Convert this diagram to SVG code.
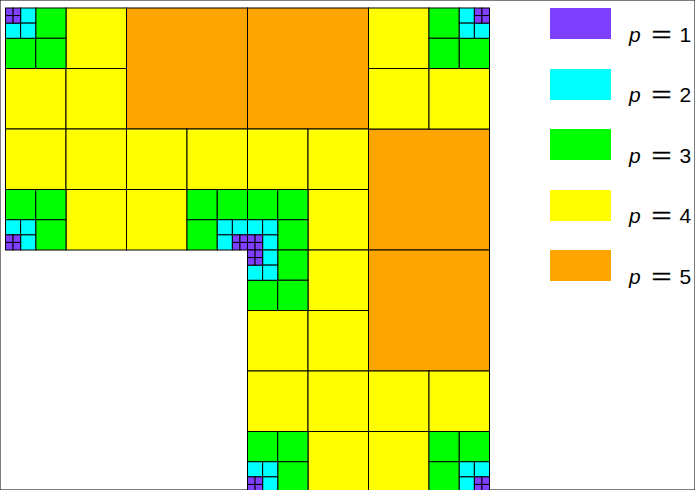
<svg xmlns="http://www.w3.org/2000/svg" width="695" height="490" viewBox="0 0 695 490">
<style>
rect{stroke:#000;stroke-width:1}
.o{fill:#ffa500}.y{fill:#ffff00}.g{fill:#00ff00}.c{fill:#00ffff}.p{fill:#7f3fff}
.lg rect{stroke:none}
text{font-family:"Liberation Sans",Arial,sans-serif;font-size:21px;fill:#000}
.it{font-style:italic}
.eq{font-size:22px;stroke:#000;stroke-width:0.35}
</style>
<rect x="0" y="0" width="695" height="490" fill="#fff" stroke="none"/>
<g id="mesh">
<g id="p5">
<rect class="o" x="126.5" y="8" width="121" height="121"/>
<rect class="o" x="247.5" y="8" width="121" height="121"/>
<rect class="o" x="368.5" y="129" width="121" height="121"/>
<rect class="o" x="368.5" y="250" width="121" height="121"/>
</g>
<g id="p4">
<rect class="y" x="66" y="8" width="60.5" height="60.5"/>
<rect class="y" x="5.5" y="68.5" width="60.5" height="60.5"/>
<rect class="y" x="66" y="68.5" width="60.5" height="60.5"/>
<rect class="y" x="368.5" y="8" width="60.5" height="60.5"/>
<rect class="y" x="368.5" y="68.5" width="60.5" height="60.5"/>
<rect class="y" x="429" y="68.5" width="60.5" height="60.5"/>
<rect class="y" x="5.5" y="129" width="60.5" height="60.5"/>
<rect class="y" x="66" y="129" width="60.5" height="60.5"/>
<rect class="y" x="66" y="189.5" width="60.5" height="60.5"/>
<rect class="y" x="126.5" y="129" width="60.5" height="60.5"/>
<rect class="y" x="187" y="129" width="60.5" height="60.5"/>
<rect class="y" x="126.5" y="189.5" width="60.5" height="60.5"/>
<rect class="y" x="247.5" y="129" width="60.5" height="60.5"/>
<rect class="y" x="308" y="129" width="60.5" height="60.5"/>
<rect class="y" x="308" y="189.5" width="60.5" height="60.5"/>
<rect class="y" x="308" y="250" width="60.5" height="60.5"/>
<rect class="y" x="247.5" y="310.5" width="60.5" height="60.5"/>
<rect class="y" x="308" y="310.5" width="60.5" height="60.5"/>
<rect class="y" x="247.5" y="371" width="60.5" height="60.5"/>
<rect class="y" x="308" y="371" width="60.5" height="60.5"/>
<rect class="y" x="308" y="431.5" width="60.5" height="60.5"/>
<rect class="y" x="368.5" y="371" width="60.5" height="60.5"/>
<rect class="y" x="429" y="371" width="60.5" height="60.5"/>
<rect class="y" x="368.5" y="431.5" width="60.5" height="60.5"/>
</g>
<g id="p3">
<rect class="g" x="35.75" y="8" width="30.25" height="30.25"/>
<rect class="g" x="5.5" y="38.25" width="30.25" height="30.25"/>
<rect class="g" x="35.75" y="38.25" width="30.25" height="30.25"/>
<rect class="g" x="429" y="8" width="30.25" height="30.25"/>
<rect class="g" x="429" y="38.25" width="30.25" height="30.25"/>
<rect class="g" x="459.25" y="38.25" width="30.25" height="30.25"/>
<rect class="g" x="5.5" y="189.5" width="30.25" height="30.25"/>
<rect class="g" x="35.75" y="189.5" width="30.25" height="30.25"/>
<rect class="g" x="35.75" y="219.75" width="30.25" height="30.25"/>
<rect class="g" x="187" y="189.5" width="30.25" height="30.25"/>
<rect class="g" x="217.25" y="189.5" width="30.25" height="30.25"/>
<rect class="g" x="187" y="219.75" width="30.25" height="30.25"/>
<rect class="g" x="247.5" y="189.5" width="30.25" height="30.25"/>
<rect class="g" x="277.75" y="189.5" width="30.25" height="30.25"/>
<rect class="g" x="277.75" y="219.75" width="30.25" height="30.25"/>
<rect class="g" x="277.75" y="250" width="30.25" height="30.25"/>
<rect class="g" x="247.5" y="280.25" width="30.25" height="30.25"/>
<rect class="g" x="277.75" y="280.25" width="30.25" height="30.25"/>
<rect class="g" x="247.5" y="431.5" width="30.25" height="30.25"/>
<rect class="g" x="277.75" y="431.5" width="30.25" height="30.25"/>
<rect class="g" x="277.75" y="461.75" width="30.25" height="30.25"/>
<rect class="g" x="429" y="431.5" width="30.25" height="30.25"/>
<rect class="g" x="459.25" y="431.5" width="30.25" height="30.25"/>
<rect class="g" x="429" y="461.75" width="30.25" height="30.25"/>
</g>
<g id="p2">
<rect class="c" x="20.625" y="8" width="15.125" height="15.125"/>
<rect class="c" x="5.5" y="23.125" width="15.125" height="15.125"/>
<rect class="c" x="20.625" y="23.125" width="15.125" height="15.125"/>
<rect class="c" x="459.25" y="8" width="15.125" height="15.125"/>
<rect class="c" x="459.25" y="23.125" width="15.125" height="15.125"/>
<rect class="c" x="474.375" y="23.125" width="15.125" height="15.125"/>
<rect class="c" x="5.5" y="219.75" width="15.125" height="15.125"/>
<rect class="c" x="20.625" y="219.75" width="15.125" height="15.125"/>
<rect class="c" x="20.625" y="234.875" width="15.125" height="15.125"/>
<rect class="c" x="217.25" y="219.75" width="15.125" height="15.125"/>
<rect class="c" x="232.375" y="219.75" width="15.125" height="15.125"/>
<rect class="c" x="217.25" y="234.875" width="15.125" height="15.125"/>
<rect class="c" x="247.5" y="219.75" width="15.125" height="15.125"/>
<rect class="c" x="262.625" y="219.75" width="15.125" height="15.125"/>
<rect class="c" x="262.625" y="234.875" width="15.125" height="15.125"/>
<rect class="c" x="262.625" y="250" width="15.125" height="15.125"/>
<rect class="c" x="247.5" y="265.125" width="15.125" height="15.125"/>
<rect class="c" x="262.625" y="265.125" width="15.125" height="15.125"/>
<rect class="c" x="247.5" y="461.75" width="15.125" height="15.125"/>
<rect class="c" x="262.625" y="461.75" width="15.125" height="15.125"/>
<rect class="c" x="262.625" y="476.875" width="15.125" height="15.125"/>
<rect class="c" x="459.25" y="461.75" width="15.125" height="15.125"/>
<rect class="c" x="474.375" y="461.75" width="15.125" height="15.125"/>
<rect class="c" x="459.25" y="476.875" width="15.125" height="15.125"/>
</g>
<g id="p1">
<rect class="p" x="5.5" y="8" width="7.5625" height="7.5625"/>
<rect class="p" x="13.0625" y="8" width="7.5625" height="7.5625"/>
<rect class="p" x="5.5" y="15.5625" width="7.5625" height="7.5625"/>
<rect class="p" x="13.0625" y="15.5625" width="7.5625" height="7.5625"/>
<rect class="p" x="474.375" y="8" width="7.5625" height="7.5625"/>
<rect class="p" x="481.9375" y="8" width="7.5625" height="7.5625"/>
<rect class="p" x="474.375" y="15.5625" width="7.5625" height="7.5625"/>
<rect class="p" x="481.9375" y="15.5625" width="7.5625" height="7.5625"/>
<rect class="p" x="5.5" y="234.875" width="7.5625" height="7.5625"/>
<rect class="p" x="13.0625" y="234.875" width="7.5625" height="7.5625"/>
<rect class="p" x="5.5" y="242.4375" width="7.5625" height="7.5625"/>
<rect class="p" x="13.0625" y="242.4375" width="7.5625" height="7.5625"/>
<rect class="p" x="232.375" y="234.875" width="7.5625" height="7.5625"/>
<rect class="p" x="239.9375" y="234.875" width="7.5625" height="7.5625"/>
<rect class="p" x="232.375" y="242.4375" width="7.5625" height="7.5625"/>
<rect class="p" x="239.9375" y="242.4375" width="7.5625" height="7.5625"/>
<rect class="p" x="247.5" y="234.875" width="7.5625" height="7.5625"/>
<rect class="p" x="255.0625" y="234.875" width="7.5625" height="7.5625"/>
<rect class="p" x="247.5" y="242.4375" width="7.5625" height="7.5625"/>
<rect class="p" x="255.0625" y="242.4375" width="7.5625" height="7.5625"/>
<rect class="p" x="247.5" y="250" width="7.5625" height="7.5625"/>
<rect class="p" x="255.0625" y="250" width="7.5625" height="7.5625"/>
<rect class="p" x="247.5" y="257.5625" width="7.5625" height="7.5625"/>
<rect class="p" x="255.0625" y="257.5625" width="7.5625" height="7.5625"/>
<rect class="p" x="247.5" y="476.875" width="7.5625" height="7.5625"/>
<rect class="p" x="255.0625" y="476.875" width="7.5625" height="7.5625"/>
<rect class="p" x="247.5" y="484.4375" width="7.5625" height="7.5625"/>
<rect class="p" x="255.0625" y="484.4375" width="7.5625" height="7.5625"/>
<rect class="p" x="474.375" y="476.875" width="7.5625" height="7.5625"/>
<rect class="p" x="481.9375" y="476.875" width="7.5625" height="7.5625"/>
<rect class="p" x="474.375" y="484.4375" width="7.5625" height="7.5625"/>
<rect class="p" x="481.9375" y="484.4375" width="7.5625" height="7.5625"/>
</g>
</g>
<g id="legend" class="lg">
<g id="leg1"><rect class="p" x="550" y="8" width="61" height="31"/><text x="629" y="41.8"><tspan class="it">p</tspan></text><text class="eq" x="651.5" y="41.8" textLength="20" lengthAdjust="spacingAndGlyphs">=</text><text x="679.5" y="41.8">1</text></g>
<g id="leg2"><rect class="c" x="550" y="69" width="61" height="31"/><text x="629" y="102.3"><tspan class="it">p</tspan></text><text class="eq" x="651.5" y="102.3" textLength="20" lengthAdjust="spacingAndGlyphs">=</text><text x="679.5" y="102.3">2</text></g>
<g id="leg3"><rect class="g" x="550" y="129" width="61" height="31"/><text x="629" y="162.8"><tspan class="it">p</tspan></text><text class="eq" x="651.5" y="162.8" textLength="20" lengthAdjust="spacingAndGlyphs">=</text><text x="679.5" y="162.8">3</text></g>
<g id="leg4"><rect class="y" x="550" y="190" width="61" height="31"/><text x="629" y="223.3"><tspan class="it">p</tspan></text><text class="eq" x="651.5" y="223.3" textLength="20" lengthAdjust="spacingAndGlyphs">=</text><text x="679.5" y="223.3">4</text></g>
<g id="leg5"><rect class="o" x="550" y="250" width="61" height="31"/><text x="629" y="283.8"><tspan class="it">p</tspan></text><text class="eq" x="651.5" y="283.8" textLength="20" lengthAdjust="spacingAndGlyphs">=</text><text x="679.5" y="283.8">5</text></g>
</g>
</svg>
